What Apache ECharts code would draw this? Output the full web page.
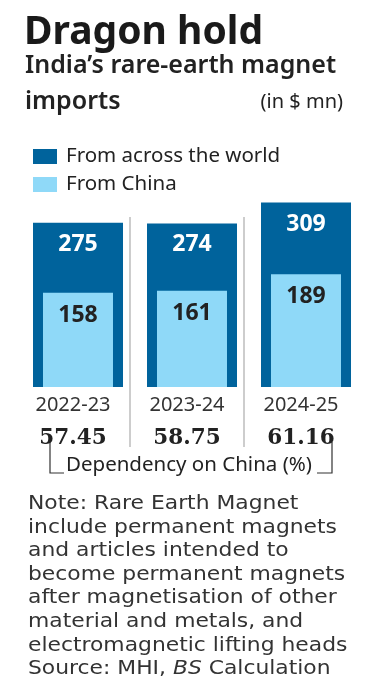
<!DOCTYPE html>
<html>
<head>
<meta charset="utf-8">
<script src="https://cdn.jsdelivr.net/npm/echarts@6/dist/echarts.min.js"></script>
<style>
  html, body { margin: 0; padding: 0; background: #fff; }
  #chart { width: 375px; height: 696px; }
</style>
</head>
<body>
<div id="chart"></div>
<script>
// data
var years = ['2022-23', '2023-24', '2024-25'];
var worldImports = [275, 274, 309];
var chinaImports = [158, 161, 189];
var dependency = ['57.45', '58.75', '61.16'];

var noteLines = [
  'Note: Rare Earth Magnet',
  'include permanent magnets',
  'and articles intended to',
  'become permanent magnets',
  'after magnetisation of other',
  'material and metals, and',
  'electromagnetic lifting heads'
];

var DARK = '#00639c';
var LIGHT = '#8fd9f8';
var FONT = '"Noto Sans", sans-serif';
var NOTE_FONT = '"DejaVu Sans", sans-serif';

var chart = echarts.init(document.getElementById('chart'));

var graphics = [];
// separators between the years
[130, 244].forEach(function (x) {
  graphics.push({
    type: 'line',
    shape: { x1: x, y1: 217, x2: x, y2: 447 },
    style: { stroke: '#bdbdbd', lineWidth: 1.5 }
  });
});
// bracket under the percentages
graphics.push({
  type: 'polyline',
  shape: { points: [[50, 442], [50, 473], [64, 473]] },
  style: { stroke: '#333', lineWidth: 1.2, fill: null }
});
graphics.push({
  type: 'polyline',
  shape: { points: [[317, 473], [332, 473], [332, 442]] },
  style: { stroke: '#333', lineWidth: 1.2, fill: null }
});
graphics.push({
  type: 'text',
  left: 66, top: 455,
  style: { text: 'Dependency on China (%)', font: '20.5px ' + FONT, fill: '#222' }
});
// note + source (the original face is wide, so stretch a little)
noteLines.forEach(function (t, i) {
  graphics.push({
    type: 'text',
    x: 28, y: 494 + i * 23.6,
    scaleX: 1.12,
    style: { text: t, font: '19.5px ' + NOTE_FONT, fill: '#333', verticalAlign: 'top' }
  });
});
graphics.push({
  type: 'text',
  x: 28, y: 494 + 7 * 23.6,
  scaleX: 1.12,
  style: {
    text: '{a|Source: MHI, }{b|BS}{a| Calculation}',
    verticalAlign: 'top',
    rich: {
      a: { font: '19.5px ' + NOTE_FONT, fill: '#333' },
      b: { font: 'italic 19.5px ' + NOTE_FONT, fill: '#333' }
    }
  }
});
graphics.push({
  type: 'text',
  right: 32, top: 92,
  style: { text: '(in $ mn)', font: '20px ' + FONT, fill: '#222' }
});

chart.setOption({
  animation: false,
  title: [
    {
      text: 'Dragon hold',
      left: 19, top: 8,
      textStyle: { fontFamily: FONT, fontWeight: 'bold', fontSize: 39, color: '#1a1a1a' }
    },
    {
      text: 'India\u2019s rare-earth magnet\nimports',
      left: 20, top: 43,
      textStyle: { fontFamily: FONT, fontWeight: 600, fontSize: 25, lineHeight: 36, color: '#222' }
    }
  ],
  legend: {
    orient: 'vertical',
    left: 28, top: 141,
    itemWidth: 24, itemHeight: 15,
    itemGap: 7,
    icon: 'rect',
    selectedMode: false,
    textStyle: { fontFamily: FONT, fontSize: 20.5, color: '#222', padding: [0, 0, 0, 4] },
    data: ['From across the world', 'From China']
  },
  grid: { left: 16, right: 17, bottom: 309, top: 178 },
  xAxis: {
    type: 'category',
    data: years,
    axisLine: { show: false },
    axisTick: { show: false },
    axisLabel: {
      margin: 5,
      formatter: function (v, i) { return '{y|' + v + '}\n{p|' + dependency[i] + '}'; },
      rich: {
        y: { fontFamily: FONT, fontSize: 20, color: '#333', lineHeight: 26 },
        p: { fontFamily: '"DejaVu Serif", serif', fontWeight: 'bold', fontSize: 21.5, color: '#222', lineHeight: 40 }
      }
    }
  },
  yAxis: { type: 'value', min: 0, max: 350, show: false },
  series: [
    {
      name: 'From across the world',
      type: 'bar',
      data: worldImports,
      barWidth: 90,
      itemStyle: { color: DARK },
      label: {
        show: true, position: 'insideTop', distance: 10,
        fontFamily: FONT, fontWeight: 'bold', fontSize: 23, color: '#fff'
      }
    },
    {
      name: 'From China',
      type: 'bar',
      data: chinaImports,
      barWidth: 70,
      barGap: '-88.9%',
      itemStyle: { color: LIGHT },
      label: {
        show: true, position: 'insideTop', distance: 11,
        fontFamily: FONT, fontWeight: 'bold', fontSize: 23, color: '#222'
      }
    }
  ],
  graphic: graphics
});
</script>
</body>
</html>
